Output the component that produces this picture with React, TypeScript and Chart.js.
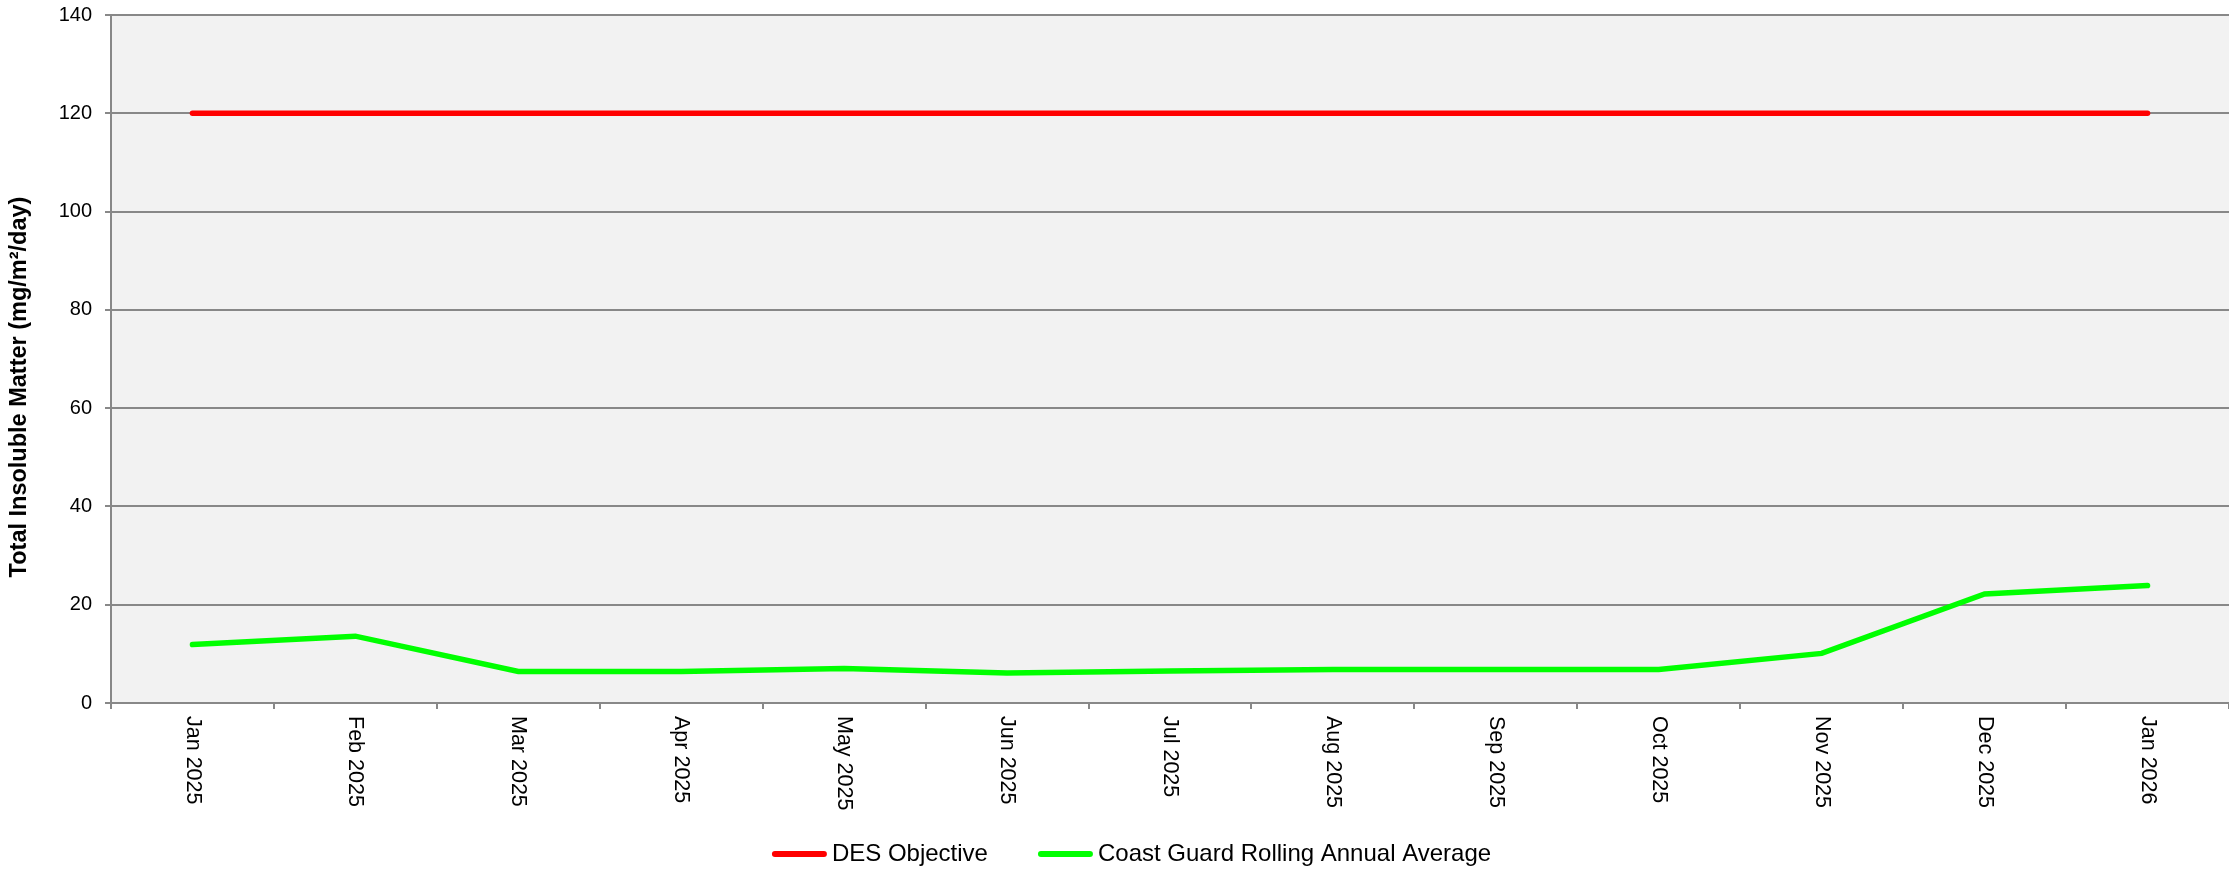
import React, { useEffect, useRef } from "react";
import { Chart, registerables } from "chart.js";

Chart.register(...registerables);

const categories = [
  "Jan 2025", "Feb 2025", "Mar 2025", "Apr 2025", "May 2025", "Jun 2025", "Jul 2025",
  "Aug 2025", "Sep 2025", "Oct 2025", "Nov 2025", "Dec 2025", "Jan 2026",
];
const desObjective = [120, 120, 120, 120, 120, 120, 120, 120, 120, 120, 120, 120, 120];
const coastGuardAverage = [11.9, 13.6, 6.4, 6.4, 7.0, 6.1, 6.5, 6.8, 6.8, 6.8, 10.1, 22.2, 23.9];
const seriesNames = ["DES Objective", "Coast Guard Rolling Annual Average"];
const seriesColors = ["#FF0000", "#00FF00"];
const yMin = 0;
const yMax = 140;
const yStep = 20;
const yTitle = "Total Insoluble Matter (mg/m²/day)";

const FONT = "'Liberation Sans', Arial, sans-serif";
const GRID = "#888888";

const plotBackground = {
  id: "plotBackground",
  beforeDraw(chart: any) {
    const { ctx, chartArea } = chart;
    ctx.save();
    ctx.fillStyle = "#F2F2F2";
    ctx.fillRect(chartArea.left, chartArea.top, chartArea.right - chartArea.left, chartArea.bottom - chartArea.top);
    ctx.restore();
  },
};

const rotatedXLabels = {
  id: "rotatedXLabels",
  afterDraw(chart: any) {
    const { ctx, chartArea } = chart;
    const xs = chart.scales.x;
    ctx.save();
    ctx.fillStyle = "#000";
    ctx.font = `21.5px ${FONT}`;
    ctx.textAlign = "left";
    ctx.textBaseline = "middle";
    xs.ticks.forEach((t: any, i: number) => {
      const x = xs.getPixelForTick(i);
      ctx.save();
      ctx.translate(x, chartArea.bottom + 13);
      ctx.rotate(Math.PI / 2);
      ctx.fillText(String(categories[i]), 0, 0);
      ctx.restore();
    });
    ctx.restore();
  },
};

const yAxisTitle = {
  id: "yAxisTitle",
  afterDraw(chart: any) {
    const { ctx, chartArea } = chart;
    ctx.save();
    ctx.fillStyle = "#000";
    ctx.font = `bold 23.5px ${FONT}`;
    ctx.textAlign = "center";
    ctx.textBaseline = "middle";
    ctx.translate(chartArea.left - 91, (chartArea.top + chartArea.bottom) / 2 + 28);
    ctx.rotate(-Math.PI / 2);
    ctx.fillText(yTitle, 0, 0);
    ctx.restore();
  },
};

const customLegend = {
  id: "customLegend",
  afterDraw(chart: any) {
    const { ctx } = chart;
    ctx.save();
    ctx.font = `24px ${FONT}`;
    const lineLen = 55;
    const gap = 5;
    const itemGap = 50;
    const widths = chart.data.datasets.map((d: any) => lineLen + gap + ctx.measureText(d.label).width);
    const total = widths.reduce((a: number, b: number) => a + b, 0) + itemGap * (widths.length - 1);
    let x = chart.width / 2 + 17 - total / 2;
    const y = chart.height - 19;
    chart.data.datasets.forEach((d: any, i: number) => {
      ctx.strokeStyle = d.borderColor;
      ctx.lineWidth = 6;
      ctx.lineCap = "round";
      ctx.beginPath();
      ctx.moveTo(x + 3, y);
      ctx.lineTo(x + lineLen - 3, y);
      ctx.stroke();
      ctx.fillStyle = "#000";
      ctx.textAlign = "left";
      ctx.textBaseline = "middle";
      ctx.fillText(d.label, x + lineLen + gap, y);
      x += widths[i] + itemGap;
    });
    ctx.restore();
  },
};

export default function App() {
  const ref = useRef<HTMLCanvasElement>(null);
  useEffect(() => {
    if (!ref.current) return;
    const chart = new Chart(ref.current, {
      type: "line",
      data: {
        labels: categories,
        datasets: [
          {
            label: seriesNames[0],
            data: desObjective,
            borderColor: seriesColors[0],
            backgroundColor: seriesColors[0],
            borderWidth: 5.5,
            pointRadius: 0,
            borderCapStyle: "round",
            borderJoinStyle: "round",
            tension: 0,
          },
          {
            label: seriesNames[1],
            data: coastGuardAverage,
            borderColor: seriesColors[1],
            backgroundColor: seriesColors[1],
            borderWidth: 5.5,
            pointRadius: 0,
            borderCapStyle: "round",
            borderJoinStyle: "miter",
            tension: 0,
          },
        ],
      },
      options: {
        responsive: false,
        animation: false,
        layout: { padding: { top: 15, left: 0, right: 0, bottom: 0 } },
        plugins: {
          legend: { display: false },
          tooltip: { enabled: false },
          title: { display: false },
        },
        scales: {
          x: {
            type: "category",
            offset: true,
            afterFit(scale: any) {
              scale.height = 170;
            },
            grid: {
              display: true,
              drawOnChartArea: false,
              offset: true,
              drawTicks: true,
              tickLength: 6,
              color: GRID,
              lineWidth: 2,
            },
            border: { display: true, color: GRID, width: 2 },
            ticks: { display: false },
          },
          y: {
            min: yMin,
            max: yMax,
            afterFit(scale: any) {
              scale.width = 111;
              scale.paddingTop = 0;
              scale.paddingBottom = 0;
            },
            ticks: {
              stepSize: yStep,
              color: "#000",
              padding: 13,
              font: { family: FONT, size: 20 },
            },
            grid: {
              color: GRID,
              lineWidth: 2,
              tickLength: 6,
              drawTicks: true,
            },
            border: { display: true, color: GRID, width: 2 },
          },
        },
      },
      plugins: [plotBackground, rotatedXLabels, yAxisTitle, customLegend],
    });
    return () => chart.destroy();
  }, []);
  return (
    <div style={{ position: "absolute", left: 0, top: 0, width: 2229, height: 873 }}>
      <canvas ref={ref} width={2229} height={873} style={{ display: "block" }} />
    </div>
  );
}
